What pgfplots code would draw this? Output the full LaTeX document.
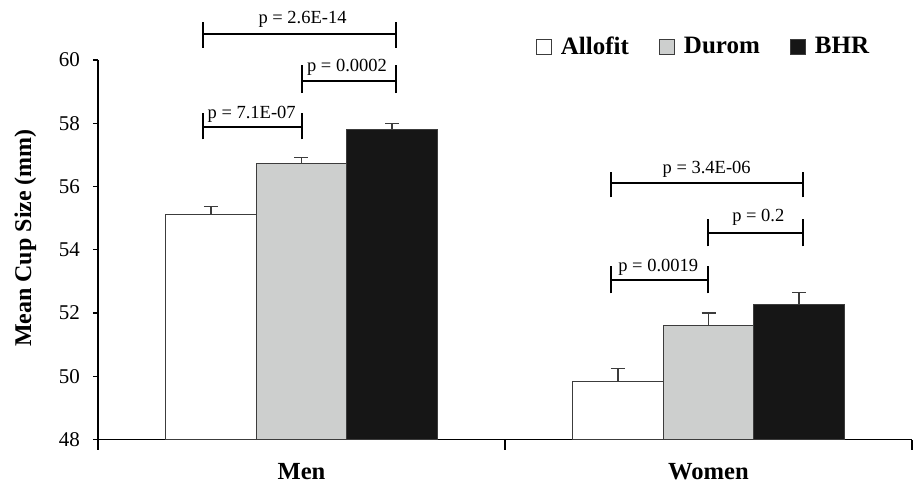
\documentclass[border=0pt]{standalone}
\usepackage{fontspec}
\setmainfont{Liberation Serif}
\usepackage{pgfplots}
\pgfplotsset{compat=1.18}
\definecolor{durom}{RGB}{205,207,206}
\definecolor{bhr}{RGB}{22,22,22}
\definecolor{edge}{RGB}{60,60,60}
\pgfplotsset{sqleg/.style={legend image code/.code={\draw[##1] (0pt,-3.75pt) rectangle (7.5pt,3.75pt);}}}
\pgfplotsset{eb/.style={error bars/.cd, y dir=plus, y explicit, error bar style={draw=edge, line width=0.6pt}, error mark=-, error mark options={rotate=90, draw=edge, line width=0.6pt, mark size=3.5pt}}}
\begin{document}
\begin{tikzpicture}
\begin{axis}[
  at={(0,0)}, anchor=south west,
  scale only axis, width=407pt, height=189.75pt,
  xmin=-0.5, xmax=1.5, ymin=48, ymax=60,
  axis lines=left, axis line style={-, black, line width=0.6pt},
  clip mode=individual,
  ytick={48,50,...,60},
  xtick={-0.5,0.5,1.5}, xticklabels={},
  extra x ticks={0,1}, extra x tick labels={\textbf{Men},\textbf{Women}},
  extra x tick style={xtick style={draw=none}, xticklabel style={anchor=base, yshift=-17.5pt, font=\fontsize{12.3}{14}\selectfont}},
  tick align=outside,
  major tick length=2.5pt,
  xtick style={/pgfplots/major tick length=5pt, black, line width=0.6pt},
  ytick style={black, line width=0.6pt},
  /pgf/number format/assume math mode=true,
  yticklabel style={font=\fontsize{10.5}{12}\selectfont, xshift=-3pt},
  ylabel={\textbf{Mean Cup Size (mm)}},
  ylabel style={font=\fontsize{12}{14}\selectfont, at={(axis description cs:-0.0891,0.531)}, anchor=center},
  legend style={draw=none, fill=none, inner sep=0pt, outer sep=0pt,
    at={(rel axis cs:0.538,1.0343)}, anchor=west, legend columns=3,
    font=\fontsize{12.5}{14}\selectfont\bfseries,
    /tikz/every odd column/.append style={column sep=2.5pt},
    /tikz/every even column/.append style={column sep=13pt}},
]
\addplot[ybar, bar width=0.2224, bar shift=0pt, fill=white, draw=edge, line width=0.5pt, sqleg, eb]
  coordinates {(-0.2224,55.10) +- (0,0.26) (0.7776,49.85) +- (0,0.39)};
\addplot[ybar, bar width=0.2224, bar shift=0pt, fill=durom, draw=edge, line width=0.5pt, sqleg, eb]
  coordinates {(0,56.73) +- (0,0.19) (1,51.60) +- (0,0.40)};
\addplot[ybar, bar width=0.2224, bar shift=0pt, fill=bhr, draw=edge, line width=0.5pt, sqleg, eb]
  coordinates {(0.2224,57.80) +- (0,0.19) (1.2224,52.28) +- (0,0.38)};
\legend{Allofit,Durom,BHR}
% significance brackets (Men)
\begin{scope}[line width=1pt, black]
\draw (axis cs:-0.241,60.81) -- (axis cs:0.2314,60.81);
\draw (axis cs:-0.241,60.39) -- (axis cs:-0.241,61.21);
\draw (axis cs:0.2314,60.39) -- (axis cs:0.2314,61.21);
\draw (axis cs:0.0005,59.336) -- (axis cs:0.2314,59.336);
\draw (axis cs:0.0005,58.95) -- (axis cs:0.0005,59.84);
\draw (axis cs:0.2314,58.95) -- (axis cs:0.2314,59.84);
\draw (axis cs:-0.241,57.89) -- (axis cs:0.0005,57.89);
\draw (axis cs:-0.241,57.49) -- (axis cs:-0.241,58.31);
\draw (axis cs:0.0005,57.49) -- (axis cs:0.0005,58.31);
% Women
\draw (axis cs:0.7604,56.10) -- (axis cs:1.2314,56.10);
\draw (axis cs:0.7604,55.66) -- (axis cs:0.7604,56.47);
\draw (axis cs:1.2314,55.66) -- (axis cs:1.2314,56.47);
\draw (axis cs:0.998,54.54) -- (axis cs:1.2314,54.54);
\draw (axis cs:0.998,54.11) -- (axis cs:0.998,54.96);
\draw (axis cs:1.2314,54.11) -- (axis cs:1.2314,54.96);
\draw (axis cs:0.7604,53.04) -- (axis cs:0.998,53.04);
\draw (axis cs:0.7604,52.62) -- (axis cs:0.7604,53.48);
\draw (axis cs:0.998,52.62) -- (axis cs:0.998,53.48);
\end{scope}
\begin{scope}[every node/.style={anchor=base, inner sep=0pt, font=\fontsize{9.25}{11}\selectfont}]
\node at (axis cs:0.0025,61.14) {p = 2.6E-14};
\node at (axis cs:0.1118,59.63) {p = 0.0002};
\node at (axis cs:-0.1224,58.16) {p = 7.1E-07};
\node at (axis cs:0.9956,56.41) {p = 3.4E-06};
\node at (axis cs:1.1224,54.89) {p = 0.2};
\node at (axis cs:0.8766,53.30) {p = 0.0019};
\end{scope}
\end{axis}
\pgfresetboundingbox
\path (-49pt,-22.25pt) rectangle (408.5pt,219.75pt);
\end{tikzpicture}
\end{document}
